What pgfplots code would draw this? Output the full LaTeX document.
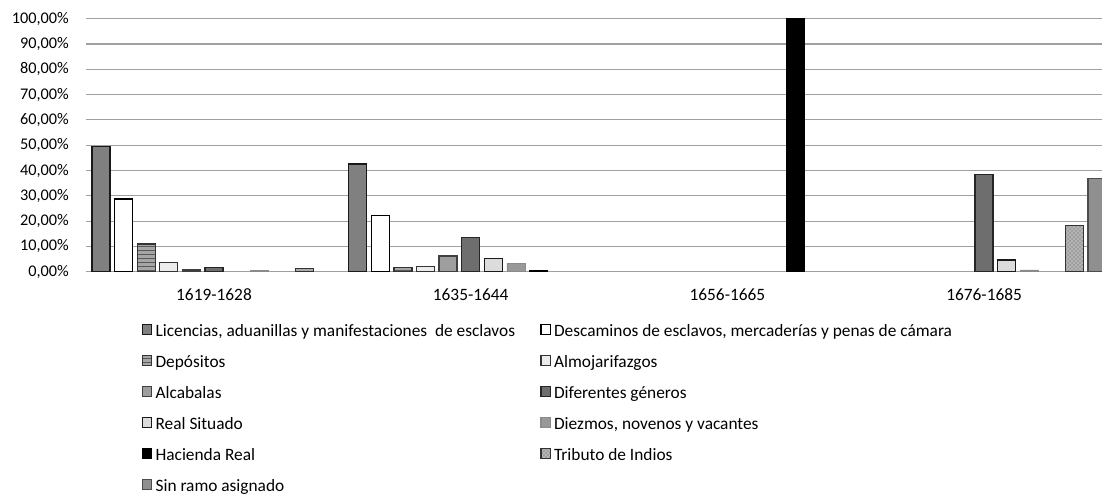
\documentclass[border=0pt]{standalone}
\usepackage{fontspec}
\setmainfont{Carlito}
\usepackage{pgfplots}
\pgfplotsset{compat=1.18}
\usetikzlibrary{patterns}

% Grey scale fills of the eleven revenue branches
\definecolor{cLic}{HTML}{808080}
\definecolor{cDep}{HTML}{A6A6A6}
\definecolor{cAlm}{HTML}{ECECEC}
\definecolor{cAlc}{HTML}{9E9E9E}
\definecolor{cDif}{HTML}{6E6E6E}
\definecolor{cRea}{HTML}{DCDCDC}
\definecolor{cDie}{HTML}{999999}
\definecolor{cTri}{HTML}{B4B4B4}
\definecolor{cSin}{HTML}{8F8F8F}
\definecolor{cGrid}{HTML}{A0A0A0}

\newcommand{\lblfont}{\fontsize{13}{15.6}\selectfont}
\newcommand{\yfont}{\fontsize{12.2}{14.6}\selectfont}

\begin{document}
\begin{tikzpicture}
\begin{axis}[
  at={(0,0)}, anchor=south west,
  scale only axis,
  width=762pt, height=189.75pt,
  xmin=-0.4986, xmax=3.4593,
  ymin=0, ymax=100,
  ybar, bar width=0.0701,
  axis line style={draw=none},
  major tick length=0pt,
  ymajorgrids,
  major grid style={draw=cGrid, line width=0.8pt},
  ytick={0,10,...,100},
  yticklabels={{0,00\%},{10,00\%},{20,00\%},{30,00\%},{40,00\%},{50,00\%},{60,00\%},{70,00\%},{80,00\%},{90,00\%},{100,00\%}},
  xtick={0,1,2,3},
  xticklabels={1619-1628,1635-1644,1656-1665,1676-1685},
  yticklabel style={font=\yfont, anchor=east, inner sep=0pt, xshift=-12.75pt},
  xticklabel style={font=\lblfont, anchor=north, inner sep=0pt, yshift=-12.5pt},
  legend columns=2,
  legend cell align=left,
  legend image code/.code={\draw[#1,line width=0.8pt] (0pt,1.2pt) rectangle (6.9pt,8.4pt);},
  legend style={
    font=\lblfont,
    draw=none, fill=none, inner sep=0pt, outer sep=0pt,
    at={(0.0551,-0.204)}, anchor=north west,
    row sep=10.75pt,
    cells={anchor=base west},
    nodes={inner sep=0pt, text height=9.5pt, text depth=3pt},
    /tikz/every odd column/.append style={column sep=2.5pt},
    /tikz/every even column/.append style={column sep=19pt},
  },
  every axis plot/.append style={line width=1pt},
]
\addplot[fill=cLic, draw=black!90, bar shift=-0.4402]
  coordinates {(0,49.4) (1,42.6)};
\addlegendentry{Licencias, aduanillas y manifestaciones\ \ de esclavos}
\addplot[fill=white, draw=black, bar shift=-0.3522]
  coordinates {(0,28.7) (1,22.1)};
\addlegendentry{Descaminos de esclavos, mercaderías y penas de cámara}
\addplot[fill=cDep, draw=black!80, bar shift=-0.2641,
  postaction={pattern=horizontal lines, pattern color=black!65}]
  coordinates {(0,10.9) (1,1.7)};
\addlegendentry{Depósitos}
\addplot[fill=cAlm, draw=black!80, bar shift=-0.1761]
  coordinates {(0,3.7) (1,2.1)};
\addlegendentry{Almojarifazgos}
\addplot[fill=cAlc, draw=black!75, bar shift=-0.0880]
  coordinates {(0,0.7) (1,6.2)};
\addlegendentry{Alcabalas}
\addplot[fill=cDif, draw=black!85, bar shift=0]
  coordinates {(0,1.7) (1,13.4) (3,38.5)};
\addlegendentry{Diferentes géneros}
\addplot[fill=cRea, draw=black!90, bar shift=0.0880]
  coordinates {(1,5.3) (3,4.6)};
\addlegendentry{Real Situado}
\addplot[fill=cDie, draw=cDie!90!black, line width=0.6pt, bar shift=0.1761]
  coordinates {(0,0.5) (1,3.3) (3,0.7)};
\addlegendentry{Diezmos, novenos y vacantes}
\addplot[fill=black, draw=black, bar shift=0.2641]
  coordinates {(1,0.6) (2,100)};
\addlegendentry{Hacienda Real}
\addplot[fill=cTri, draw=black!80, bar shift=0.3522,
  postaction={pattern=crosshatch dots, pattern color=black!60}]
  coordinates {(0,1.3) (3,18.4)};
\addlegendentry{Tributo de Indios}
\addplot[fill=cSin, draw=black!70, bar shift=0.4402]
  coordinates {(3,36.8)};
\addlegendentry{Sin ramo asignado}
\end{axis}
\pgfresetboundingbox
\useasboundingbox (-64.5pt,-167.4pt) rectangle (762pt,203.8pt);
\end{tikzpicture}
\end{document}
